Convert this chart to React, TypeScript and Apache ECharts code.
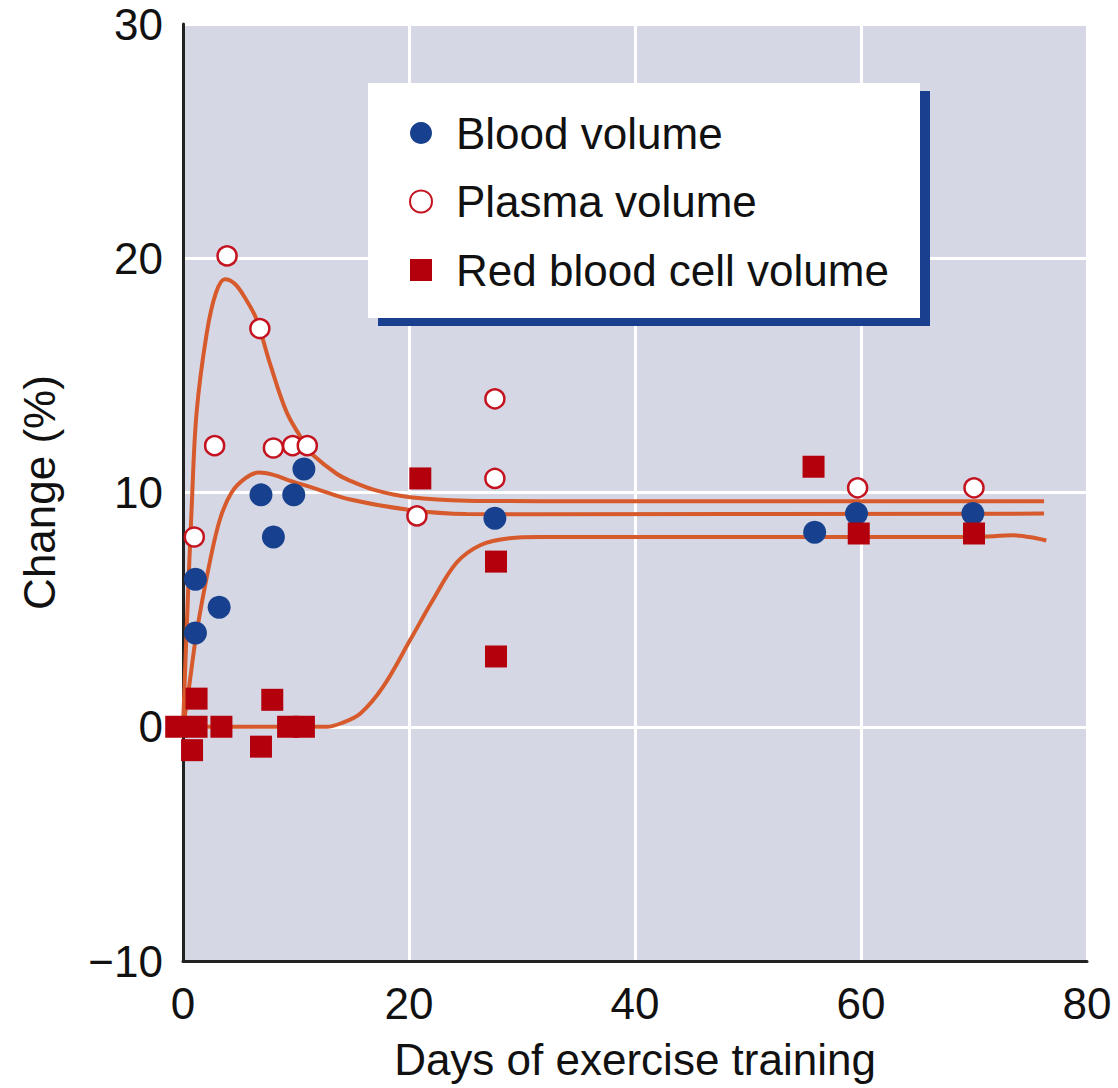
import React, { useEffect, useRef } from "react";
import * as echarts from "echarts";

// Scatter observations [day, change %]
const bloodVolume: [number, number][] = [
  [1.1, 6.3], [1.1, 4.0], [3.2, 5.1], [6.9, 9.9], [8.0, 8.1], [9.8, 9.9],
  [10.7, 11.0], [27.6, 8.9], [55.9, 8.3], [59.6, 9.1], [69.9, 9.1],
];
const plasmaVolume: [number, number][] = [
  [1.0, 8.1], [2.8, 12.0], [3.9, 20.1], [6.8, 17.0], [8.0, 11.9], [9.7, 12.0],
  [11.0, 12.0], [20.7, 9.0], [27.6, 14.0], [27.6, 10.6], [59.7, 10.2], [70.0, 10.2],
];
const redCellVolume: [number, number][] = [
  [-0.6, 0], [1.2, 0], [1.2, 1.2], [0.8, -1.0], [3.4, 0], [7.9, 1.15], [6.9, -0.85],
  [9.3, 0], [10.7, 0], [21.0, 10.6], [27.7, 7.05], [27.7, 3.0], [55.8, 11.1],
  [59.8, 8.25], [70.0, 8.25],
];

// Fitted curves
const plasmaCurve: [number, number][] = [
  [0, 0], [0.35, 4.5], [0.77, 9.4], [1.2, 13.4], [2.1, 16.8], [2.9, 18.5], [3.7, 19.1],
  [4.6, 18.9], [5.5, 18.3], [6.5, 17.4], [7.7, 15.5], [9.2, 13.4], [10.9, 12.0],
  [11.5, 11.6], [13.6, 10.8], [14.8, 10.5], [17, 10.1], [20.1, 9.8], [25.1, 9.65],
  [31.6, 9.63], [76.2, 9.63],
];
const bloodCurve: [number, number][] = [
  [0, 0], [0.45, 1.4], [1.2, 4.0], [2.4, 7.1], [3.3, 8.9], [4.3, 10.0], [5.5, 10.6],
  [6.7, 10.85], [8, 10.75], [9.5, 10.5], [11.5, 10.2], [14.8, 9.7], [20.1, 9.25],
  [25.1, 9.08], [31.6, 9.07], [76.2, 9.1],
];
const redCellCurve: [number, number][] = [
  [0, 0], [12.7, 0], [14, 0.15], [15.7, 0.57], [17.7, 1.7], [20.1, 3.7], [22.1, 5.4],
  [24.2, 7.0], [26.3, 7.75], [28.9, 8.05], [31.6, 8.1], [70, 8.1], [73.5, 8.17],
  [75.5, 8.05], [76.4, 7.95],
];

const seriesNames = ["Blood volume", "Plasma volume", "Red blood cell volume"];
const xTicks = { min: 0, max: 80, interval: 20 };
const yTicks = { min: -10, max: 30, interval: 10 };

const FONT = "'Liberation Sans', Arial, Helvetica, sans-serif";
const CURVE = "#d65a2b";
const BLUE = "#17408f";
const RED = "#b4000c";
const RED_RING = "#c4121f";

export default function App() {
  const ref = useRef<HTMLDivElement>(null);
  useEffect(() => {
    document.body.style.margin = "0";
    const chart = echarts.init(ref.current!, undefined, { renderer: "svg" });
    const lineSeries = (data: [number, number][]) => ({
      type: "line",
      data,
      smooth: 0.35,
      showSymbol: false,
      symbol: "none",
      lineStyle: { color: CURVE, width: 4 },
      z: 1,
      silent: true,
    });
    chart.setOption({
      animation: false,
      textStyle: { fontFamily: FONT },
      grid: { left: 183, top: 24, right: 31, bottom: 127, show: true, backgroundColor: "#d5d7e5", borderWidth: 0 },
      graphic: [
        { type: "rect", z: 5, shape: { x: 378, y: 91, width: 552, height: 235 }, style: { fill: "#1b3f8f" } },
        { type: "rect", z: 6, shape: { x: 368, y: 83, width: 552, height: 235 }, style: { fill: "#ffffff" } },
      ],
      legend: {
        data: [
          { name: seriesNames[0] },
          { name: seriesNames[1] },
          { name: seriesNames[2], icon: "path://M0 0H10V10H0Z" },
        ],
        orient: "vertical",
        left: 404,
        top: 106,
        itemWidth: 60,
        itemHeight: 22,
        itemGap: 24.5,
        symbolKeepAspect: true,
        z: 10,
        selectedMode: false,
        textStyle: { fontSize: 44, color: "#111", fontFamily: FONT, lineHeight: 44 },
      },
      xAxis: {
        type: "value",
        ...xTicks,
        name: "Days of exercise training",
        nameLocation: "middle",
        nameGap: 76,
        nameTextStyle: { fontSize: 44, color: "#111", fontFamily: FONT },
        axisLine: { show: true, onZero: false, lineStyle: { color: "#222", width: 3 } },
        axisTick: { show: false },
        axisLabel: { fontSize: 44, color: "#111", margin: 20, fontFamily: FONT },
        splitLine: { show: true, lineStyle: { color: "#ffffff", width: 3 } },
      },
      yAxis: {
        type: "value",
        ...yTicks,
        name: "Change (%)",
        nameLocation: "middle",
        nameGap: 122,
        nameTextStyle: { fontSize: 44, color: "#111", fontFamily: FONT },
        axisLine: { show: true, onZero: false, lineStyle: { color: "#222", width: 3 } },
        axisTick: { show: false },
        axisLabel: {
          fontSize: 44,
          color: "#111",
          margin: 20,
          fontFamily: FONT,
          formatter: (v: number) => (v < 0 ? "\u2212" + Math.abs(v) : String(v)),
        },
        splitLine: { show: true, lineStyle: { color: "#ffffff", width: 3 } },
      },
      series: [
        lineSeries(plasmaCurve),
        lineSeries(bloodCurve),
        lineSeries(redCellCurve),
        {
          name: seriesNames[0],
          type: "scatter",
          data: bloodVolume,
          symbol: "circle",
          symbolSize: 23,
          itemStyle: { color: BLUE, opacity: 1 },
          clip: false,
          z: 3,
        },
        {
          name: seriesNames[1],
          type: "scatter",
          data: plasmaVolume,
          symbol: "circle",
          symbolSize: 19,
          itemStyle: { color: "#ffffff", borderColor: RED_RING, borderWidth: 2.5, opacity: 1 },
          clip: false,
          z: 3,
        },
        {
          name: seriesNames[2],
          type: "scatter",
          data: redCellVolume,
          symbol: "rect",
          symbolSize: 22,
          itemStyle: { color: RED, opacity: 1 },
          clip: false,
          z: 3,
        },
      ],
    });
    return () => chart.dispose();
  }, []);
  return <div ref={ref} style={{ width: 1118, height: 1088 }} />;
}
